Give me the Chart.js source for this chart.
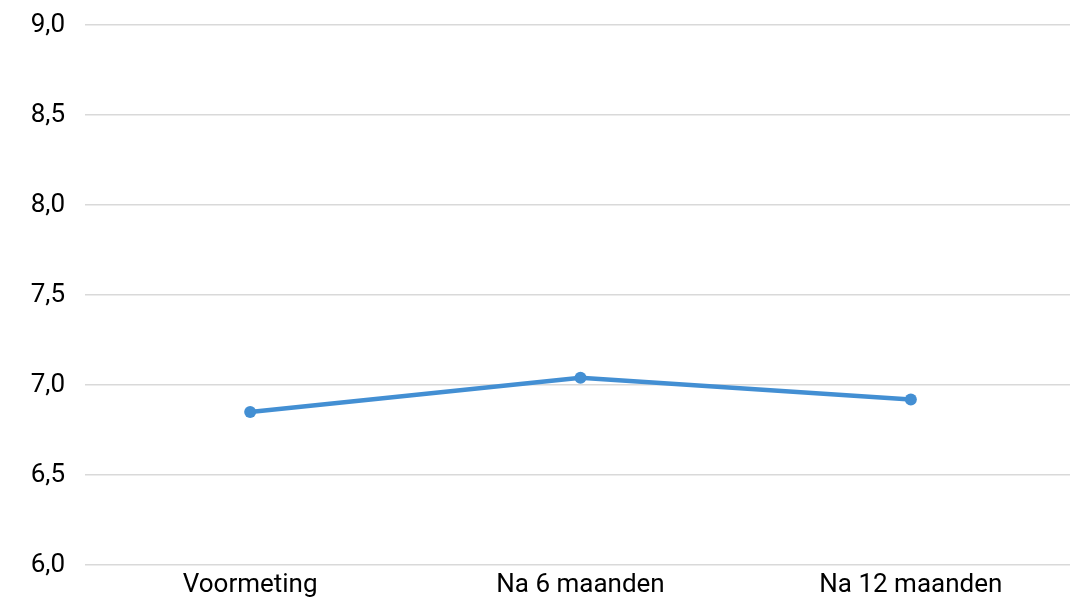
<!DOCTYPE html>
<html>
<head>
<meta charset="utf-8">
<script src="https://cdn.jsdelivr.net/npm/chart.js@4/dist/chart.umd.min.js"></script>
<style>
  html, body { margin: 0; padding: 0; background: #fff; overflow: hidden; }
  /* the plot runs a few pixels past the right edge of the window */
  #wrap { position: relative; width: 1076px; height: 602px; }
</style>
</head>
<body>
<div id="wrap"><canvas id="c"></canvas></div>
<script>
const categories = ['Voormeting', 'Na 6 maanden', 'Na 12 maanden'];
const scores = [6.85, 7.04, 6.92];
const yMin = 6.0;
const yMax = 9.0;
const yStep = 0.5;

const lineColor = '#438fd3';

new Chart(document.getElementById('c'), {
  type: 'line',
  data: {
    labels: categories,
    datasets: [{
      data: scores,
      borderColor: lineColor,
      backgroundColor: lineColor,
      borderWidth: 4.5,
      pointRadius: 6,
      pointHoverRadius: 6,
      pointBorderWidth: 0,
      tension: 0,
      fill: false
    }]
  },
  options: {
    responsive: true,
    maintainAspectRatio: false,
    animation: false,
    devicePixelRatio: 1,
    layout: { autoPadding: false, padding: { top: 25, left: 0, right: 0, bottom: 0 } },
    plugins: { legend: { display: false }, tooltip: { enabled: false } },
    scales: {
      x: {
        offset: true,
        grid: { display: false, drawTicks: false },
        border: { display: false },
        ticks: {
          color: '#000',
          padding: 5,
          font: { family: 'Roboto', size: 26 }
        },
        afterFit(scale) {
          scale.height = 37;
          scale.paddingLeft = 0;
          scale.paddingRight = 0;
        }
      },
      y: {
        min: yMin,
        max: yMax,
        grid: { color: '#d9d9d9', lineWidth: 1.5, drawTicks: false },
        border: { display: false },
        ticks: {
          stepSize: yStep,
          color: '#000',
          padding: 20,
          font: { family: 'Roboto', size: 26 },
          callback: v => v.toFixed(1).replace('.', ',')
        },
        afterFit(scale) {
          scale.width = 85;
          scale.paddingTop = 0;
          scale.paddingBottom = 0;
        }
      }
    }
  }
});
</script>
</body>
</html>
